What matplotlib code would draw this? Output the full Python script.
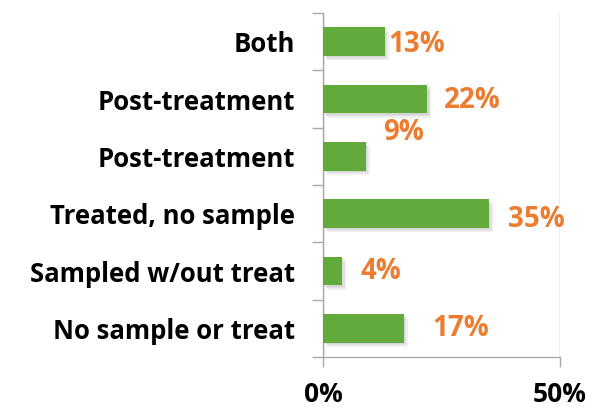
import matplotlib
matplotlib.use("Agg")
import matplotlib.pyplot as plt
import matplotlib.patheffects as pe
import numpy as np

# --- Data (top to bottom) ---
categories = ["Both", "Post-treatment", "Post-treatment",
              "Treated, no sample", "Sampled w/out treat", "No sample or treat"]
percent = [13, 22, 9, 35, 4, 17]

# hand-placed label nudges in pixels (dx, dy) from the bar end
label_nudge = [(4, -3), (17, -1), (17, 24), (19, -6), (19, 0), (29, 0)]

GREEN = "#62aa3c"
ORANGE = "#ec7c30"
GRID = "#a9a9a9"

plt.rcParams['font.family'] = ['Open Sans', 'DejaVu Sans']

fig = plt.figure(figsize=(5.92, 4.09), dpi=100)
ax = fig.add_axes([0.5456, 0.1271, 0.4003, 0.8411])

y = np.arange(len(categories))
bars = ax.barh(y, percent, height=0.5, color=GREEN, zorder=3)
# soft drop shadow: a few stacked faint offsets
shadow = [pe.SimplePatchShadow(offset=(o, -o), shadow_rgbFace="#808080", alpha=0.12)
          for o in (3, 2, 1)]
for b in bars:
    b.set_path_effects(shadow + [pe.Normal()])

for yi, v, (dx, dy) in zip(y, percent, label_nudge):
    ax.annotate(f"{v}%", xy=(v, yi), xytext=(dx, dy), textcoords="offset pixels",
                ha="left", va="center", color=ORANGE, fontsize=20, fontweight="bold")

ax.set_xlim(0, 50)
ax.set_ylim(len(categories) - 0.5, -0.5)

# category labels centred, tick marks on the boundaries
ax.set_yticks(y)
ax.set_yticklabels(categories, fontsize=18.5, fontweight="bold")
ax.set_yticks(np.arange(-0.5, len(categories)), minor=True)
ax.tick_params(axis="y", which="major", length=0, pad=20)
ax.tick_params(axis="y", which="minor", length=8, width=1, color=GRID, direction="out")

ax.set_xticks([0, 50])
ax.set_xticklabels(["0%", "50%"], fontsize=19, fontweight="bold")
ax.tick_params(axis="x", length=7, width=1, color=GRID, pad=10)

ax.grid(axis="x", color=GRID, linewidth=1, zorder=0)
for s in ["top", "right"]:
    ax.spines[s].set_visible(False)
for s in ["left", "bottom"]:
    ax.spines[s].set_color(GRID)
    ax.spines[s].set_linewidth(1)

fig.savefig("out.png", dpi=100)
